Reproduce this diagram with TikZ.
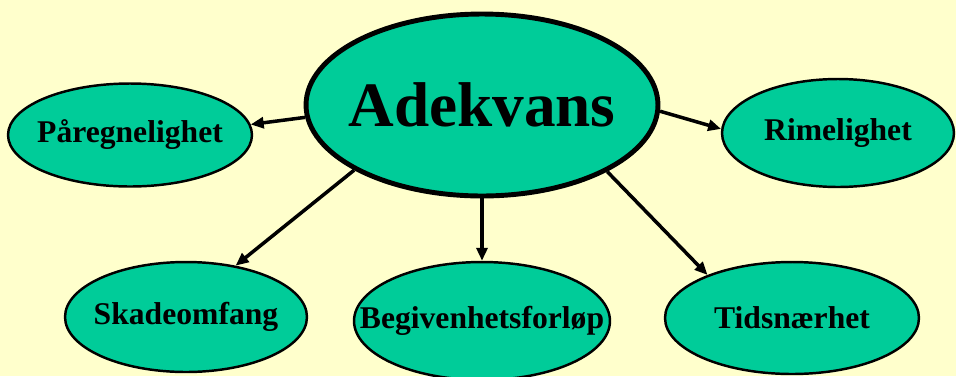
\documentclass[tikz,border=0pt]{standalone}
\usepackage{fontspec}
\setmainfont{Liberation Serif}
\usetikzlibrary{shapes.geometric,arrows.meta}
\definecolor{paper}{HTML}{FFFFCC}
\definecolor{leaf}{HTML}{00CC99}
\tikzset{
  oval/.style={ellipse, draw, fill=leaf, line width=1.4pt, inner sep=0pt,
    label={[font=\fontsize{18}{20}\selectfont\bfseries]center:#1}},
  hoved/.style={ellipse, draw, fill=leaf, line width=2.8pt, inner sep=0pt,
    label={[font=\fontsize{36}{40}\selectfont\bfseries]center:#1}},
}
\begin{document}
\begin{tikzpicture}[x=0.02cm, y=-0.02cm, >={Triangle[length=0.26cm,width=0.22cm]}]
\fill[paper](0,0)rectangle(956,376);
\useasboundingbox(0,0)rectangle(956,376);
\node[hoved=Adekvans, minimum width=7.04cm, minimum height=3.64cm](adekvans) at (482,105){};
\node[oval=Påregnelighet, minimum width=4.88cm, minimum height=2.06cm](paaregn) at (130,135){};
\node[oval=Rimelighet, minimum width=4.64cm, minimum height=2.16cm](rimelig) at (838,133){};
\node[oval=Skadeomfang, minimum width=4.84cm, minimum height=2.2cm](skade) at (186,317){};
\node[oval=Begivenhetsforløp, minimum width=5.12cm, minimum height=2.36cm](forlop) at (482,321){};
\node[oval=Tidsnærhet, minimum width=5.08cm, minimum height=2.24cm](tid) at (792,318){};
% piler
\draw[->, line width=2pt](adekvans.184)--(paaregn.5);
\draw[->, line width=2pt](adekvans.-2)--(rimelig.178);
\draw[->, line width=2pt](adekvans.207)--(skade.46);
\draw[->, line width=2pt](adekvans.south)--(forlop.north);
\draw[->, line width=2pt](adekvans.-28)--(tid.153);
\end{tikzpicture}
\end{document}
